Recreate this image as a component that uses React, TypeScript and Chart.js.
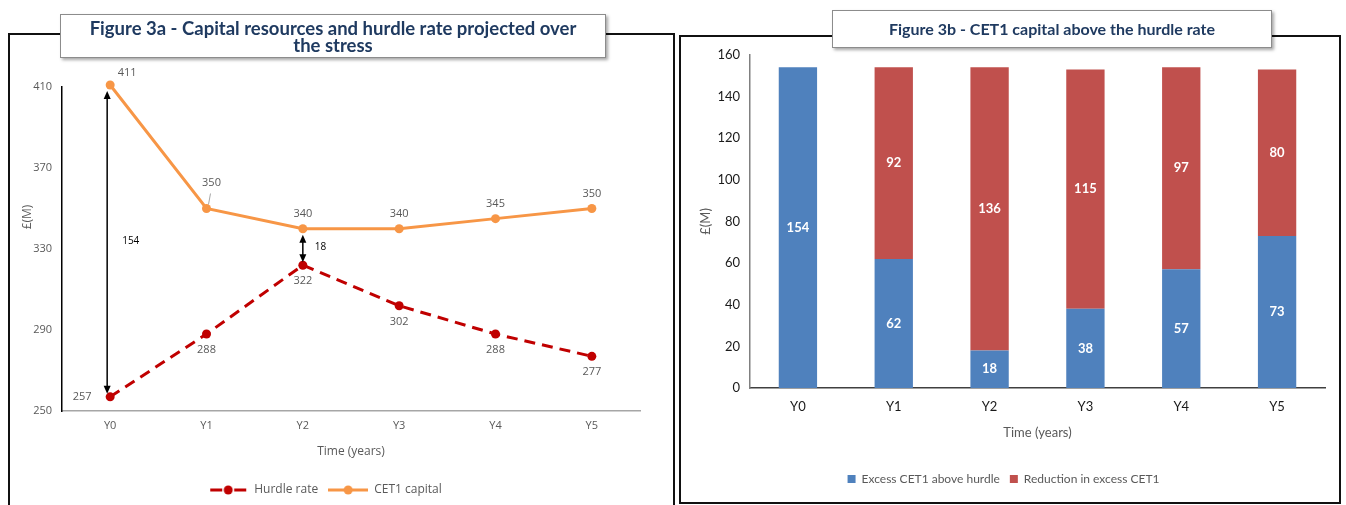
import React, { useEffect, useRef } from "react";
import { Chart, registerables } from "chart.js";

Chart.register(...registerables);

// ---------- data ----------
const years = ["Y0", "Y1", "Y2", "Y3", "Y4", "Y5"];
const hurdleRate = [257, 288, 322, 302, 288, 277];
const cet1Capital = [411, 350, 340, 340, 345, 350];
const leftTickValues = [250, 290, 330, 370, 410];
const gapArrowYears = [0, 2];

const excessCet1 = [154, 62, 18, 38, 57, 73];
const reductionCet1 = [0, 92, 136, 115, 97, 80];
const rightTickValues = [0, 20, 40, 60, 80, 100, 120, 140, 160];

// ---------- styles ----------
const RED_LINE = "#C00000";
const ORANGE = "#F79646";
const BLUE = "#4F81BD";
const RED_BAR = "#C0504D";
const GREY_TEXT = "#595959";
const LEFT_FONT = "'Open Sans', sans-serif";
const RIGHT_FONT = "Lato, 'Open Sans', sans-serif";

function makeLegendIcon(color: string, dashed: boolean) {
  const c = document.createElement("canvas");
  c.width = 40;
  c.height = 12;
  const g = c.getContext("2d")!;
  g.strokeStyle = color;
  g.fillStyle = color;
  g.lineWidth = 3;
  g.beginPath();
  if (dashed) {
    g.moveTo(2, 6);
    g.lineTo(14, 6);
    g.moveTo(26, 6);
    g.lineTo(38, 6);
  } else {
    g.moveTo(0, 6);
    g.lineTo(40, 6);
  }
  g.stroke();
  g.beginPath();
  g.arc(20, 6, 4.5, 0, Math.PI * 2);
  g.fill();
  return c;
}

function drawArrowHead(ctx: CanvasRenderingContext2D, x: number, y: number, dir: number) {
  ctx.beginPath();
  ctx.moveTo(x, y);
  ctx.lineTo(x - 3.5, y - dir * 8);
  ctx.lineTo(x + 3.5, y - dir * 8);
  ctx.closePath();
  ctx.fill();
}

const leftLabelsPlugin = {
  id: "leftLabels",
  afterDatasetsDraw(chart: any) {
    const { ctx } = chart;
    const x = chart.scales.x;
    const y = chart.scales.y;
    ctx.save();
    ctx.font = `11px ${LEFT_FONT}`;
    ctx.fillStyle = GREY_TEXT;
    ctx.textAlign = "center";
    ctx.textBaseline = "middle";
    cet1Capital.forEach((v, i) => {
      const px = x.getPixelForValue(i);
      const py = y.getPixelForValue(v);
      let lx = px;
      let ly = py - 15;
      if (i === 0) {
        lx = px + 17;
        ly = py - 12;
      }
      if (i === 1) {
        lx = px + 5;
        ly = py - 26;
        ctx.strokeStyle = "#A6A6A6";
        ctx.lineWidth = 1;
        ctx.beginPath();
        ctx.moveTo(px + 4, py - 15);
        ctx.lineTo(px + 2, py - 4);
        ctx.stroke();
      }
      ctx.fillText(String(v), lx, ly);
    });
    hurdleRate.forEach((v, i) => {
      const px = x.getPixelForValue(i);
      const py = y.getPixelForValue(v);
      let lx = px;
      let ly = py + 16;
      if (i === 0) {
        lx = px - 28;
        ly = py;
      }
      ctx.fillText(String(v), lx, ly);
    });

    // y-axis title
    ctx.save();
    ctx.translate(18, 157);
    ctx.rotate(-Math.PI / 2);
    ctx.font = `12px ${LEFT_FONT}`;
    ctx.fillText("£(M)", 0, 0);
    ctx.restore();

    // gap arrows
    ctx.strokeStyle = "#000";
    ctx.fillStyle = "#000";
    ctx.lineWidth = 1.5;
    gapArrowYears.forEach((i) => {
      const px = x.getPixelForValue(i) - (i === 0 ? 3 : 0);
      const top = y.getPixelForValue(cet1Capital[i]) + 6;
      const bot = y.getPixelForValue(hurdleRate[i]) - 3;
      ctx.beginPath();
      ctx.moveTo(px, top + 4);
      ctx.lineTo(px, bot - 4);
      ctx.stroke();
      drawArrowHead(ctx, px, top, -1);
      drawArrowHead(ctx, px, bot, 1);
      ctx.font = `10px ${LEFT_FONT}`;
      ctx.textAlign = "left";
      ctx.fillText(
        String(cet1Capital[i] - hurdleRate[i]),
        x.getPixelForValue(i) + 12,
        (y.getPixelForValue(cet1Capital[i]) + y.getPixelForValue(hurdleRate[i])) / 2
      );
    });
    ctx.restore();
  },
};

const barLabelsPlugin = {
  id: "barLabels",
  afterDatasetsDraw(chart: any) {
    const { ctx } = chart;
    ctx.save();
    ctx.font = `bold 13px ${RIGHT_FONT}`;
    ctx.fillStyle = "#FFFFFF";
    ctx.textAlign = "center";
    ctx.textBaseline = "middle";
    chart.data.datasets.forEach((ds: any, di: number) => {
      const meta = chart.getDatasetMeta(di);
      meta.data.forEach((bar: any, i: number) => {
        const v = ds.data[i];
        if (!v) return;
        ctx.fillText(String(v), bar.x, (bar.y + bar.base) / 2);
      });
    });
    ctx.restore();
  },
};

export default function App() {
  const leftRef = useRef<HTMLCanvasElement>(null);
  const rightRef = useRef<HTMLCanvasElement>(null);

  useEffect(() => {
    const hurdleIcon = makeLegendIcon(RED_LINE, true);
    const cetIcon = makeLegendIcon(ORANGE, false);

    const left = new Chart(leftRef.current!, {
      type: "line",
      data: {
        labels: years,
        datasets: [
          {
            label: "Hurdle rate",
            data: hurdleRate,
            borderColor: RED_LINE,
            backgroundColor: RED_LINE,
            borderWidth: 3,
            borderDash: [11, 7],
            pointRadius: 4.5,
            pointBorderWidth: 0,
            pointBackgroundColor: RED_LINE,
            tension: 0,
            clip: false as any,
          },
          {
            label: "CET1 capital",
            data: cet1Capital,
            borderColor: ORANGE,
            backgroundColor: ORANGE,
            borderWidth: 3,
            pointRadius: 4.5,
            pointBorderWidth: 0,
            pointBackgroundColor: ORANGE,
            tension: 0,
            clip: false as any,
          },
        ],
      },
      options: {
        animation: false,
        responsive: true,
        maintainAspectRatio: false,
        layout: { padding: { top: 27, right: 30, left: 0, bottom: 0 } },
        plugins: {
          tooltip: { enabled: false },
          legend: {
            position: "bottom",
            labels: {
              usePointStyle: true,
              pointStyleWidth: 40,
              padding: 10,
              color: GREY_TEXT,
              font: { family: LEFT_FONT, size: 12 },
              generateLabels: (chart: any) => {
                const items = (Chart.defaults.plugins.legend.labels as any).generateLabels(chart);
                return items.map((it: any, idx: number) => ({
                  ...it,
                  pointStyle: idx === 0 ? hurdleIcon : cetIcon,
                }));
              },
            },
          },
        },
        scales: {
          x: {
            offset: true,
            afterFit: (s: any) => {
              s.height = 63;
            },
            grid: { display: false, drawTicks: false },
            border: { color: "#A6A6A6", width: 1.5 },
            ticks: { padding: 8, color: GREY_TEXT, font: { family: LEFT_FONT, size: 11 } },
            title: {
              display: true,
              text: "Time (years)",
              color: GREY_TEXT,
              font: { family: LEFT_FONT, size: 12 },
              padding: { top: 0, bottom: 15 },
            },
          },
          y: {
            min: 250,
            max: 410,
            afterBuildTicks: (s: any) => {
              s.ticks = leftTickValues.map((value) => ({ value }));
            },
            afterFit: (s: any) => {
              s.width = 52;
            },
            grid: { display: false, drawTicks: false },
            border: { color: "#000", width: 1.5 },
            ticks: { padding: 10, color: GREY_TEXT, font: { family: LEFT_FONT, size: 11 } },
          },
        },
      },
      plugins: [leftLabelsPlugin],
    });

    const right = new Chart(rightRef.current!, {
      type: "bar",
      data: {
        labels: years,
        datasets: [
          {
            label: "Excess CET1 above hurdle",
            data: excessCet1,
            backgroundColor: BLUE,
            borderWidth: 0,
            categoryPercentage: 0.8,
            barPercentage: 0.5,
          },
          {
            label: "Reduction in excess CET1",
            data: reductionCet1,
            backgroundColor: RED_BAR,
            borderWidth: 0,
            categoryPercentage: 0.8,
            barPercentage: 0.5,
          },
        ],
      },
      options: {
        animation: false,
        responsive: true,
        maintainAspectRatio: false,
        layout: { padding: { top: 9, right: 13, left: 0, bottom: 0 } },
        plugins: {
          tooltip: { enabled: false },
          legend: {
            position: "bottom",
            labels: {
              boxWidth: 8,
              boxHeight: 8,
              padding: 10,
              color: GREY_TEXT,
              font: { family: RIGHT_FONT, size: 12 },
            },
          },
        },
        scales: {
          x: {
            stacked: true,
            afterFit: (s: any) => {
              s.height = 75;
            },
            grid: { display: false, drawTicks: false },
            border: { color: "#404040", width: 1.5 },
            ticks: { padding: 11, color: "#1a1a1a", font: { family: RIGHT_FONT, size: 13 } },
            title: {
              display: true,
              text: "Time (years)",
              color: GREY_TEXT,
              font: { family: RIGHT_FONT, size: 13 },
              padding: { top: 0, bottom: 22 },
            },
          },
          y: {
            stacked: true,
            min: 0,
            max: 160,
            afterBuildTicks: (s: any) => {
              s.ticks = rightTickValues.map((value) => ({ value }));
            },
            afterFit: (s: any) => {
              s.width = 68;
            },
            grid: { display: false, drawTicks: false },
            border: { color: "#808080", width: 1.5 },
            ticks: { padding: 10, color: "#1a1a1a", font: { family: RIGHT_FONT, size: 13 } },
            title: {
              display: true,
              text: "£(M)",
              color: GREY_TEXT,
              font: { family: RIGHT_FONT, size: 13 },
              padding: { top: 16, bottom: 0 },
            },
          },
        },
      },
      plugins: [barLabelsPlugin],
    });

    return () => {
      left.destroy();
      right.destroy();
    };
  }, []);

  const titleStyle: React.CSSProperties = {
    position: "absolute",
    background: "#fff",
    border: "1px solid #8c8c8c",
    boxShadow: "2px 2px 3px rgba(0,0,0,0.35)",
    color: "#1F3A60",
    fontFamily: RIGHT_FONT,
    fontWeight: 700,
    fontSize: 16,
    textAlign: "center",
    boxSizing: "border-box",
  };

  return (
    <div
      style={{
        position: "fixed",
        left: 0,
        top: 0,
        width: 1346,
        height: 505,
        overflow: "hidden",
        background: "#fff",
      }}
    >
      <div
        style={{
          position: "absolute",
          left: 8,
          top: 33,
          width: 667,
          height: 520,
          border: "2px solid #111",
          boxSizing: "border-box",
        }}
      />
      <div
        style={{
          position: "absolute",
          left: 679,
          top: 35,
          width: 662,
          height: 469,
          border: "2px solid #111",
          boxSizing: "border-box",
        }}
      />
      <div style={{ position: "absolute", left: 10, top: 60, width: 660, height: 446 }}>
        <canvas ref={leftRef} />
      </div>
      <div style={{ position: "absolute", left: 682, top: 37, width: 656, height: 458 }}>
        <canvas ref={rightRef} />
      </div>
      <div
        style={{
          ...titleStyle,
          left: 60,
          top: 14,
          width: 546,
          height: 44,
          fontSize: 18.5,
          lineHeight: "17px",
          paddingTop: 5,
        }}
      >
        Figure 3a - Capital resources and hurdle rate projected over
        <br />
        the stress
      </div>
      <div style={{ ...titleStyle, left: 832, top: 10, width: 440, height: 38, lineHeight: "36px" }}>
        Figure 3b - CET1 capital above the hurdle rate
      </div>
    </div>
  );
}
